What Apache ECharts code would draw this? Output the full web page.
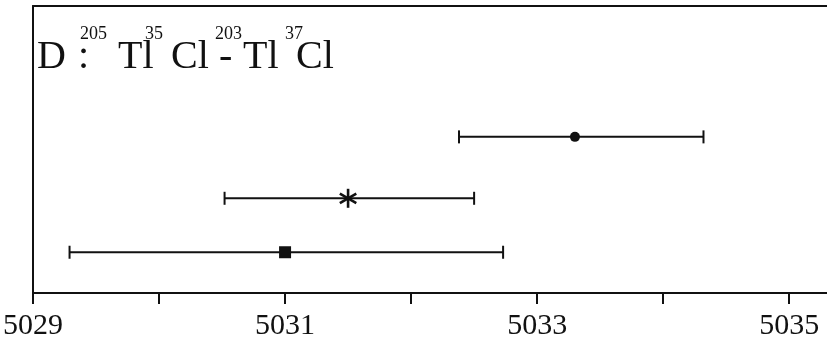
<!DOCTYPE html>
<html>
<head>
<meta charset="utf-8">
<script src="https://cdn.jsdelivr.net/npm/echarts@6/dist/echarts.min.js"></script>
<style>
  html, body { margin: 0; padding: 0; background: #fff; }
  #chart { width: 827px; height: 349px; }
</style>
</head>
<body>
<div id="chart"></div>
<script>
// Measured wavenumbers with their uncertainty ranges, one row per determination
const centers = [5033.30, 5031.50, 5031.00];
const lowerBounds = [5032.38, 5030.52, 5029.29];
const upperBounds = [5034.32, 5032.50, 5032.73];
const rowLevels = [2.72, 1.65, 0.71];
const markerKinds = ['circle', 'asterisk', 'square'];

const tickValues = [5029, 5030, 5031, 5032, 5033, 5034, 5035];
const tickLabels = [5029, 5031, 5033, 5035];

const SERIF = '"Liberation Serif", "DejaVu Serif", serif';

const data = centers.map((c, i) => [lowerBounds[i], upperBounds[i], rowLevels[i], c, i]);

function renderErrorBar(params, api) {
  const lo = api.coord([api.value(0), api.value(2)]);
  const hi = api.coord([api.value(1), api.value(2)]);
  const mid = api.coord([api.value(3), api.value(2)]);
  const kind = markerKinds[api.value(4)];
  const stroke = { stroke: '#111', lineWidth: 2 };
  const capH = 6.5;
  const children = [
    { type: 'line', shape: { x1: lo[0], y1: lo[1], x2: hi[0], y2: hi[1] }, style: stroke },
    { type: 'line', shape: { x1: lo[0], y1: lo[1] - capH, x2: lo[0], y2: lo[1] + capH }, style: stroke },
    { type: 'line', shape: { x1: hi[0], y1: hi[1] - capH, x2: hi[0], y2: hi[1] + capH }, style: stroke }
  ];
  if (kind === 'circle') {
    children.push({ type: 'circle', shape: { cx: mid[0], cy: mid[1], r: 5 }, style: { fill: '#111' } });
  } else if (kind === 'square') {
    children.push({ type: 'rect', shape: { x: mid[0] - 6, y: mid[1] - 6, width: 12, height: 12 }, style: { fill: '#111' } });
  } else {
    const r = 9.5;
    [90, 30, 150].forEach(deg => {
      const a = deg * Math.PI / 180;
      const dx = r * Math.cos(a), dy = r * Math.sin(a);
      children.push({ type: 'line', shape: { x1: mid[0] - dx, y1: mid[1] - dy, x2: mid[0] + dx, y2: mid[1] + dy }, style: { stroke: '#111', lineWidth: 2.6 } });
    });
  }
  return { type: 'group', children };
}

// Heading: "D : 205Tl35Cl - 203Tl37Cl" with isotope mass numbers raised
const mainFont = '40px ' + SERIF;
const supFont = '18px ' + SERIF;
const headingParts = [
  { t: 'D', x: 37, sup: false },
  { t: ':', x: 78, sup: false },
  { t: 'Tl', x: 118, sup: false },
  { t: 'Cl', x: 171, sup: false },
  { t: '-', x: 219, sup: false },
  { t: 'Tl', x: 243, sup: false },
  { t: 'Cl', x: 296, sup: false },
  { t: '205', x: 80, sup: true },
  { t: '35', x: 145, sup: true },
  { t: '203', x: 215, sup: true },
  { t: '37', x: 285, sup: true }
];
const heading = headingParts.map(p => ({
  type: 'text',
  left: p.x,
  top: p.sup ? 25.5 : 37.5,
  style: { text: p.t, font: p.sup ? supFont : mainFont, fill: '#111' }
}));

const chart = echarts.init(document.getElementById('chart'));
chart.setOption({
  animation: false,
  backgroundColor: '#fff',
  grid: { left: 31.5, right: 0, top: 6, bottom: 56 },
  xAxis: [
    {
      type: 'value',
      min: 5029,
      max: 5035.3,
      interval: 1,
      splitLine: { show: false },
      axisLine: { show: true, lineStyle: { color: '#111', width: 2 } },
      axisTick: { show: true, inside: false, length: 11, customValues: tickValues, lineStyle: { color: '#111', width: 2 } },
      axisLabel: {
        customValues: tickLabels,
        margin: 18,
        color: '#111',
        fontFamily: SERIF,
        fontSize: 30,
        formatter: v => String(v)
      }
    },
    {
      type: 'value',
      position: 'top',
      min: 5029,
      max: 5035.3,
      axisLine: { show: true, onZero: false, lineStyle: { color: '#111', width: 2 } },
      axisTick: { show: false },
      axisLabel: { show: false },
      splitLine: { show: false }
    }
  ],
  yAxis: {
    type: 'value',
    min: 0,
    max: 5,
    axisLine: { show: true, onZero: false, lineStyle: { color: '#111', width: 2 } },
    axisTick: { show: false },
    axisLabel: { show: false },
    splitLine: { show: false }
  },
  graphic: heading,
  series: [
    {
      type: 'custom',
      renderItem: renderErrorBar,
      encode: { x: [0, 1, 3], y: 2 },
      data: data,
      clip: false
    }
  ]
});
</script>
</body>
</html>
